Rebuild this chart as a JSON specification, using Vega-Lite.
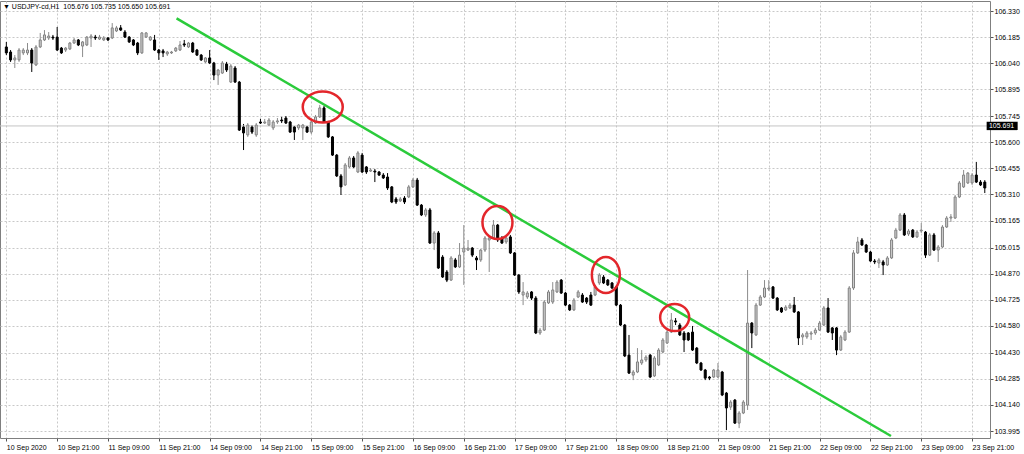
{
"$schema":"https://vega.github.io/schema/vega-lite/v6.json",
"width":990,"height":437,
"autosize":{"type":"none"},
"padding":{"left":0,"top":1,"right":34,"bottom":16},
"background":"white",
"config":{"view":{"stroke":"#7f7f7f","strokeWidth":1},
"axis":{"labelFont":"Liberation Sans","labelFontSize":7,"labelColor":"#000","tickColor":"#555","domain":false,"gridColor":"#c8c8c8","gridDash":[2,2],"gridWidth":1,"tickSize":3,"labelOverlap":false,"labelFlush":false,"labelBound":false}},
"title":{"text":"▼ USDJPY-cd,H1\u00a0 105.676 105.735 105.650 105.691","anchor":"start","frame":"group","orient":"top","offset":-10,"fontSize":7,"font":"Liberation Sans","fontWeight":"normal","color":"#000","dx":3,"dy":6,"baseline":"bottom"},
"datasets":{"candles":[
{"i":0,"o":106.130,"h":106.158,"l":106.085,"c":106.097},
{"i":1,"o":106.102,"h":106.113,"l":106.047,"c":106.058},
{"i":2,"o":106.058,"h":106.085,"l":106.013,"c":106.069},
{"i":3,"o":106.058,"h":106.124,"l":106.047,"c":106.113},
{"i":4,"o":106.097,"h":106.124,"l":106.085,"c":106.113},
{"i":5,"o":106.097,"h":106.152,"l":106.085,"c":106.113},
{"i":6,"o":106.113,"h":106.124,"l":105.991,"c":106.041},
{"i":7,"o":106.030,"h":106.141,"l":106.024,"c":106.130},
{"i":8,"o":106.130,"h":106.208,"l":106.124,"c":106.169},
{"i":9,"o":106.169,"h":106.224,"l":106.163,"c":106.197},
{"i":10,"o":106.180,"h":106.213,"l":106.169,"c":106.191},
{"i":11,"o":106.185,"h":106.197,"l":106.169,"c":106.180},
{"i":12,"o":106.185,"h":106.241,"l":106.108,"c":106.113},
{"i":13,"o":106.124,"h":106.130,"l":106.091,"c":106.097},
{"i":14,"o":106.113,"h":106.130,"l":106.102,"c":106.124},
{"i":15,"o":106.119,"h":106.158,"l":106.113,"c":106.152},
{"i":16,"o":106.152,"h":106.180,"l":106.147,"c":106.169},
{"i":17,"o":106.169,"h":106.174,"l":106.135,"c":106.141},
{"i":18,"o":106.135,"h":106.163,"l":106.074,"c":106.158},
{"i":19,"o":106.141,"h":106.191,"l":106.135,"c":106.185},
{"i":20,"o":106.180,"h":106.202,"l":106.130,"c":106.191},
{"i":21,"o":106.185,"h":106.197,"l":106.169,"c":106.180},
{"i":22,"o":106.174,"h":106.197,"l":106.169,"c":106.185},
{"i":23,"o":106.169,"h":106.191,"l":106.163,"c":106.180},
{"i":24,"o":106.180,"h":106.185,"l":106.163,"c":106.169},
{"i":25,"o":106.180,"h":106.263,"l":106.174,"c":106.236},
{"i":26,"o":106.219,"h":106.247,"l":106.213,"c":106.236},
{"i":27,"o":106.236,"h":106.252,"l":106.219,"c":106.224},
{"i":28,"o":106.213,"h":106.224,"l":106.180,"c":106.185},
{"i":29,"o":106.185,"h":106.191,"l":106.152,"c":106.158},
{"i":30,"o":106.169,"h":106.174,"l":106.135,"c":106.141},
{"i":31,"o":106.152,"h":106.158,"l":106.085,"c":106.097},
{"i":32,"o":106.097,"h":106.213,"l":106.091,"c":106.208},
{"i":33,"o":106.185,"h":106.213,"l":106.180,"c":106.208},
{"i":34,"o":106.169,"h":106.191,"l":106.163,"c":106.185},
{"i":35,"o":106.169,"h":106.197,"l":106.108,"c":106.113},
{"i":36,"o":106.113,"h":106.119,"l":106.058,"c":106.097},
{"i":37,"o":106.108,"h":106.119,"l":106.074,"c":106.097},
{"i":38,"o":106.091,"h":106.108,"l":106.080,"c":106.102},
{"i":39,"o":106.097,"h":106.108,"l":106.091,"c":106.102},
{"i":40,"o":106.108,"h":106.130,"l":106.102,"c":106.124},
{"i":41,"o":106.113,"h":106.163,"l":106.108,"c":106.141},
{"i":42,"o":106.147,"h":106.169,"l":106.130,"c":106.141},
{"i":43,"o":106.130,"h":106.158,"l":106.124,"c":106.152},
{"i":44,"o":106.152,"h":106.158,"l":106.097,"c":106.102},
{"i":45,"o":106.113,"h":106.119,"l":106.080,"c":106.085},
{"i":46,"o":106.085,"h":106.091,"l":106.052,"c":106.058},
{"i":47,"o":106.047,"h":106.074,"l":106.041,"c":106.069},
{"i":48,"o":106.069,"h":106.113,"l":106.035,"c":106.041},
{"i":49,"o":106.041,"h":106.047,"l":105.946,"c":105.974},
{"i":50,"o":105.974,"h":106.008,"l":105.919,"c":106.002},
{"i":51,"o":105.985,"h":106.052,"l":105.980,"c":106.041},
{"i":52,"o":106.035,"h":106.047,"l":105.991,"c":106.002},
{"i":53,"o":105.935,"h":106.035,"l":105.930,"c":106.024},
{"i":54,"o":106.013,"h":106.024,"l":105.930,"c":105.935},
{"i":55,"o":105.935,"h":105.941,"l":105.663,"c":105.668},
{"i":56,"o":105.685,"h":105.702,"l":105.557,"c":105.652},
{"i":57,"o":105.641,"h":105.707,"l":105.630,"c":105.696},
{"i":58,"o":105.685,"h":105.696,"l":105.646,"c":105.657},
{"i":59,"o":105.641,"h":105.707,"l":105.630,"c":105.696},
{"i":60,"o":105.713,"h":105.730,"l":105.702,"c":105.707},
{"i":61,"o":105.707,"h":105.730,"l":105.702,"c":105.713},
{"i":62,"o":105.696,"h":105.735,"l":105.691,"c":105.724},
{"i":63,"o":105.680,"h":105.724,"l":105.668,"c":105.713},
{"i":64,"o":105.713,"h":105.735,"l":105.702,"c":105.719},
{"i":65,"o":105.724,"h":105.741,"l":105.707,"c":105.719},
{"i":66,"o":105.735,"h":105.746,"l":105.702,"c":105.707},
{"i":67,"o":105.713,"h":105.719,"l":105.652,"c":105.657},
{"i":68,"o":105.685,"h":105.691,"l":105.613,"c":105.657},
{"i":69,"o":105.680,"h":105.702,"l":105.668,"c":105.696},
{"i":70,"o":105.680,"h":105.702,"l":105.613,"c":105.696},
{"i":71,"o":105.685,"h":105.691,"l":105.652,"c":105.657},
{"i":72,"o":105.657,"h":105.719,"l":105.646,"c":105.713},
{"i":73,"o":105.707,"h":105.752,"l":105.702,"c":105.741},
{"i":74,"o":105.741,"h":105.808,"l":105.735,"c":105.791},
{"i":75,"o":105.791,"h":105.802,"l":105.707,"c":105.713},
{"i":76,"o":105.713,"h":105.719,"l":105.624,"c":105.630},
{"i":77,"o":105.630,"h":105.635,"l":105.524,"c":105.529},
{"i":78,"o":105.529,"h":105.535,"l":105.407,"c":105.413},
{"i":79,"o":105.413,"h":105.424,"l":105.307,"c":105.352},
{"i":80,"o":105.363,"h":105.485,"l":105.357,"c":105.474},
{"i":81,"o":105.463,"h":105.524,"l":105.457,"c":105.513},
{"i":82,"o":105.513,"h":105.524,"l":105.457,"c":105.463},
{"i":83,"o":105.435,"h":105.552,"l":105.429,"c":105.541},
{"i":84,"o":105.529,"h":105.541,"l":105.429,"c":105.435},
{"i":85,"o":105.463,"h":105.468,"l":105.424,"c":105.435},
{"i":86,"o":105.440,"h":105.457,"l":105.435,"c":105.446},
{"i":87,"o":105.440,"h":105.452,"l":105.379,"c":105.435},
{"i":88,"o":105.435,"h":105.440,"l":105.413,"c":105.418},
{"i":89,"o":105.418,"h":105.429,"l":105.396,"c":105.402},
{"i":90,"o":105.407,"h":105.429,"l":105.335,"c":105.346},
{"i":91,"o":105.352,"h":105.357,"l":105.262,"c":105.268},
{"i":92,"o":105.285,"h":105.296,"l":105.257,"c":105.268},
{"i":93,"o":105.274,"h":105.296,"l":105.268,"c":105.285},
{"i":94,"o":105.290,"h":105.301,"l":105.257,"c":105.268},
{"i":95,"o":105.296,"h":105.363,"l":105.290,"c":105.352},
{"i":96,"o":105.352,"h":105.402,"l":105.346,"c":105.390},
{"i":97,"o":105.390,"h":105.402,"l":105.246,"c":105.251},
{"i":98,"o":105.251,"h":105.257,"l":105.190,"c":105.196},
{"i":99,"o":105.196,"h":105.235,"l":105.185,"c":105.224},
{"i":100,"o":105.224,"h":105.235,"l":105.035,"c":105.040},
{"i":101,"o":105.040,"h":105.107,"l":105.001,"c":105.096},
{"i":102,"o":105.096,"h":105.107,"l":104.896,"c":104.901},
{"i":103,"o":104.962,"h":104.973,"l":104.846,"c":104.851},
{"i":104,"o":104.879,"h":104.890,"l":104.823,"c":104.834},
{"i":105,"o":104.834,"h":104.968,"l":104.829,"c":104.957},
{"i":106,"o":104.946,"h":104.957,"l":104.901,"c":104.907},
{"i":107,"o":104.907,"h":105.040,"l":104.901,"c":104.973},
{"i":108,"o":104.990,"h":105.140,"l":104.807,"c":105.012},
{"i":109,"o":105.001,"h":105.057,"l":104.996,"c":105.012},
{"i":110,"o":105.012,"h":105.018,"l":104.962,"c":104.973},
{"i":111,"o":104.957,"h":104.968,"l":104.890,"c":104.946},
{"i":112,"o":104.946,"h":105.007,"l":104.935,"c":105.001},
{"i":113,"o":105.001,"h":105.079,"l":104.990,"c":105.068},
{"i":114,"o":105.057,"h":105.079,"l":104.879,"c":105.068},
{"i":115,"o":105.068,"h":105.168,"l":105.062,"c":105.140},
{"i":116,"o":105.140,"h":105.146,"l":105.046,"c":105.057},
{"i":117,"o":105.068,"h":105.079,"l":105.035,"c":105.040},
{"i":118,"o":105.046,"h":105.079,"l":105.035,"c":105.068},
{"i":119,"o":105.074,"h":105.085,"l":104.979,"c":104.985},
{"i":120,"o":104.985,"h":104.990,"l":104.857,"c":104.862},
{"i":121,"o":104.862,"h":104.868,"l":104.757,"c":104.768},
{"i":122,"o":104.751,"h":104.823,"l":104.695,"c":104.768},
{"i":123,"o":104.740,"h":104.773,"l":104.729,"c":104.762},
{"i":124,"o":104.768,"h":104.773,"l":104.723,"c":104.734},
{"i":125,"o":104.734,"h":104.745,"l":104.534,"c":104.540},
{"i":126,"o":104.540,"h":104.568,"l":104.529,"c":104.556},
{"i":127,"o":104.556,"h":104.723,"l":104.551,"c":104.712},
{"i":128,"o":104.707,"h":104.779,"l":104.701,"c":104.768},
{"i":129,"o":104.712,"h":104.823,"l":104.701,"c":104.779},
{"i":130,"o":104.768,"h":104.834,"l":104.762,"c":104.823},
{"i":131,"o":104.834,"h":104.840,"l":104.757,"c":104.762},
{"i":132,"o":104.762,"h":104.768,"l":104.690,"c":104.695},
{"i":133,"o":104.695,"h":104.701,"l":104.662,"c":104.668},
{"i":134,"o":104.668,"h":104.734,"l":104.662,"c":104.723},
{"i":135,"o":104.740,"h":104.779,"l":104.734,"c":104.768},
{"i":136,"o":104.751,"h":104.762,"l":104.707,"c":104.712},
{"i":137,"o":104.734,"h":104.740,"l":104.701,"c":104.712},
{"i":138,"o":104.751,"h":104.768,"l":104.690,"c":104.695},
{"i":139,"o":104.751,"h":104.807,"l":104.745,"c":104.796},
{"i":140,"o":104.818,"h":104.873,"l":104.807,"c":104.862},
{"i":141,"o":104.851,"h":104.862,"l":104.812,"c":104.818},
{"i":142,"o":104.834,"h":104.840,"l":104.801,"c":104.807},
{"i":143,"o":104.818,"h":104.823,"l":104.784,"c":104.790},
{"i":144,"o":104.796,"h":104.801,"l":104.690,"c":104.695},
{"i":145,"o":104.695,"h":104.701,"l":104.579,"c":104.584},
{"i":146,"o":104.584,"h":104.590,"l":104.406,"c":104.412},
{"i":147,"o":104.417,"h":104.529,"l":104.312,"c":104.317},
{"i":148,"o":104.306,"h":104.334,"l":104.278,"c":104.323},
{"i":149,"o":104.323,"h":104.456,"l":104.317,"c":104.379},
{"i":150,"o":104.373,"h":104.445,"l":104.362,"c":104.390},
{"i":151,"o":104.390,"h":104.417,"l":104.379,"c":104.406},
{"i":152,"o":104.417,"h":104.423,"l":104.289,"c":104.295},
{"i":153,"o":104.301,"h":104.412,"l":104.295,"c":104.401},
{"i":154,"o":104.362,"h":104.456,"l":104.356,"c":104.445},
{"i":155,"o":104.434,"h":104.512,"l":104.428,"c":104.501},
{"i":156,"o":104.484,"h":104.556,"l":104.479,"c":104.545},
{"i":157,"o":104.545,"h":104.651,"l":104.540,"c":104.612},
{"i":158,"o":104.607,"h":104.623,"l":104.584,"c":104.601},
{"i":159,"o":104.584,"h":104.595,"l":104.523,"c":104.529},
{"i":160,"o":104.540,"h":104.551,"l":104.434,"c":104.501},
{"i":161,"o":104.540,"h":104.545,"l":104.495,"c":104.501},
{"i":162,"o":104.545,"h":104.579,"l":104.440,"c":104.445},
{"i":163,"o":104.456,"h":104.462,"l":104.367,"c":104.373},
{"i":164,"o":104.373,"h":104.379,"l":104.329,"c":104.334},
{"i":165,"o":104.334,"h":104.340,"l":104.278,"c":104.289},
{"i":166,"o":104.295,"h":104.301,"l":104.278,"c":104.289},
{"i":167,"o":104.295,"h":104.340,"l":104.289,"c":104.334},
{"i":168,"o":104.295,"h":104.373,"l":104.289,"c":104.334},
{"i":169,"o":104.323,"h":104.329,"l":104.189,"c":104.195},
{"i":170,"o":104.206,"h":104.212,"l":104.000,"c":104.123},
{"i":171,"o":104.128,"h":104.167,"l":104.112,"c":104.156},
{"i":172,"o":104.167,"h":104.173,"l":104.034,"c":104.039},
{"i":173,"o":104.039,"h":104.106,"l":104.011,"c":104.095},
{"i":174,"o":104.095,"h":104.167,"l":104.089,"c":104.156},
{"i":175,"o":104.139,"h":104.890,"l":104.112,"c":104.595},
{"i":176,"o":104.595,"h":104.601,"l":104.456,"c":104.540},
{"i":177,"o":104.529,"h":104.707,"l":104.523,"c":104.695},
{"i":178,"o":104.695,"h":104.751,"l":104.690,"c":104.740},
{"i":179,"o":104.740,"h":104.834,"l":104.734,"c":104.790},
{"i":180,"o":104.784,"h":104.834,"l":104.773,"c":104.790},
{"i":181,"o":104.796,"h":104.801,"l":104.729,"c":104.734},
{"i":182,"o":104.734,"h":104.740,"l":104.662,"c":104.668},
{"i":183,"o":104.679,"h":104.684,"l":104.651,"c":104.657},
{"i":184,"o":104.668,"h":104.695,"l":104.662,"c":104.684},
{"i":185,"o":104.679,"h":104.707,"l":104.673,"c":104.695},
{"i":186,"o":104.695,"h":104.740,"l":104.651,"c":104.657},
{"i":187,"o":104.657,"h":104.662,"l":104.473,"c":104.512},
{"i":188,"o":104.518,"h":104.540,"l":104.473,"c":104.529},
{"i":189,"o":104.518,"h":104.551,"l":104.507,"c":104.540},
{"i":190,"o":104.534,"h":104.551,"l":104.501,"c":104.540},
{"i":191,"o":104.540,"h":104.568,"l":104.529,"c":104.556},
{"i":192,"o":104.556,"h":104.607,"l":104.551,"c":104.595},
{"i":193,"o":104.584,"h":104.690,"l":104.579,"c":104.679},
{"i":194,"o":104.679,"h":104.734,"l":104.540,"c":104.545},
{"i":195,"o":104.568,"h":104.573,"l":104.501,"c":104.540},
{"i":196,"o":104.568,"h":104.573,"l":104.417,"c":104.445},
{"i":197,"o":104.445,"h":104.529,"l":104.440,"c":104.518},
{"i":198,"o":104.501,"h":104.556,"l":104.495,"c":104.545},
{"i":199,"o":104.545,"h":104.801,"l":104.540,"c":104.790},
{"i":200,"o":104.790,"h":105.001,"l":104.779,"c":104.985},
{"i":201,"o":104.985,"h":105.074,"l":104.979,"c":105.046},
{"i":202,"o":105.057,"h":105.068,"l":105.024,"c":105.029},
{"i":203,"o":105.029,"h":105.035,"l":104.985,"c":104.990},
{"i":204,"o":104.990,"h":104.996,"l":104.935,"c":104.940},
{"i":205,"o":104.940,"h":104.951,"l":104.923,"c":104.935},
{"i":206,"o":104.929,"h":104.957,"l":104.901,"c":104.946},
{"i":207,"o":104.935,"h":104.946,"l":104.862,"c":104.918},
{"i":208,"o":104.918,"h":104.968,"l":104.912,"c":104.957},
{"i":209,"o":104.957,"h":105.068,"l":104.951,"c":105.057},
{"i":210,"o":105.068,"h":105.124,"l":105.062,"c":105.112},
{"i":211,"o":105.112,"h":105.207,"l":105.107,"c":105.196},
{"i":212,"o":105.196,"h":105.207,"l":105.079,"c":105.085},
{"i":213,"o":105.090,"h":105.118,"l":105.079,"c":105.107},
{"i":214,"o":105.112,"h":105.118,"l":105.068,"c":105.074},
{"i":215,"o":105.074,"h":105.112,"l":105.068,"c":105.101},
{"i":216,"o":105.107,"h":105.151,"l":105.096,"c":105.112},
{"i":217,"o":105.101,"h":105.107,"l":104.957,"c":104.973},
{"i":218,"o":104.973,"h":105.096,"l":104.968,"c":105.085},
{"i":219,"o":105.085,"h":105.096,"l":104.996,"c":105.001},
{"i":220,"o":105.001,"h":105.029,"l":104.935,"c":105.018},
{"i":221,"o":105.018,"h":105.140,"l":105.012,"c":105.129},
{"i":222,"o":105.129,"h":105.190,"l":105.124,"c":105.179},
{"i":223,"o":105.179,"h":105.201,"l":105.157,"c":105.185},
{"i":224,"o":105.179,"h":105.307,"l":105.174,"c":105.296},
{"i":225,"o":105.296,"h":105.385,"l":105.290,"c":105.374},
{"i":226,"o":105.352,"h":105.446,"l":105.346,"c":105.418},
{"i":227,"o":105.374,"h":105.435,"l":105.368,"c":105.429},
{"i":228,"o":105.374,"h":105.429,"l":105.363,"c":105.418},
{"i":229,"o":105.418,"h":105.491,"l":105.374,"c":105.379},
{"i":230,"o":105.379,"h":105.390,"l":105.357,"c":105.363},
{"i":231,"o":105.379,"h":105.390,"l":105.318,"c":105.346}
]},
"data":{"name":"candles"},
"layer":[
{"mark":{"type":"rule","strokeWidth":1},
 "encoding":{
  "x":{"field":"i","type":"quantitative","title":null,"scale":{"domain":[-0.3155,231.05],"nice":false,"zero":false},
   "axis":{"orient":"bottom","values":[0,12,24,36,48,60,72,84,96,108,120,132,144,156,168,180,192,204,216,228],"tickCount":40,"labelAlign":"left","labelBaseline":"top","labelPadding":2,"grid":true,"ticks":true,"labelOverlap":false,"labelFlush":false,"title":null,
   "labelExpr":"['10 Sep 2020','10 Sep 21:00','11 Sep 09:00','11 Sep 21:00','14 Sep 09:00','14 Sep 21:00','15 Sep 09:00','15 Sep 21:00','16 Sep 09:00','16 Sep 21:00','17 Sep 09:00','17 Sep 21:00','18 Sep 09:00','18 Sep 21:00','21 Sep 09:00','21 Sep 21:00','22 Sep 09:00','22 Sep 21:00','23 Sep 09:00','23 Sep 21:00'][round(datum.value/12)]"}},
  "y":{"field":"l","type":"quantitative","title":null,"scale":{"domain":[103.9561,106.3856],"nice":false,"zero":false},
   "axis":{"orient":"right","values":[103.995,104.14,104.285,104.43,104.58,104.725,104.87,105.015,105.165,105.31,105.455,105.6,105.745,105.895,106.04,106.185,106.33],"tickCount":40,"format":".3f","labelPadding":1,"labelBaseline":"middle","grid":true,"ticks":true,"labelOverlap":false,"labelFlush":false,"title":null}},
  "y2":{"field":"h"},
  "color":{"condition":{"test":"datum.c >= datum.o","value":"#8c8c8c"},"value":"#000000"}}},
{"data":{"values":[{"p":105.691}]},
 "mark":{"type":"rule","color":"#c4c4c4","strokeWidth":1},
 "encoding":{"y":{"field":"p","type":"quantitative","title":null}}},
{"mark":{"type":"bar","size":2,"strokeWidth":1},
 "encoding":{
  "x":{"field":"i","type":"quantitative","title":null},
  "y":{"field":"o","type":"quantitative","title":null},
  "y2":{"field":"c"},
  "fill":{"condition":{"test":"datum.c >= datum.o","value":"#d0d0d0"},"value":"#000000"},
  "stroke":{"condition":{"test":"datum.c >= datum.o","value":"#808080"},"value":"#000000"}}},
{"data":{"values":[{"i":40.19,"p":106.289},{"i":208.85,"p":103.967}]},
 "mark":{"type":"line","color":"#2bcb3b","strokeWidth":2.5},
 "encoding":{"x":{"field":"i","type":"quantitative","title":null},"y":{"field":"p","type":"quantitative","title":null}}},
{"data":{"values":[{"i":74.7,"p":105.796}]},
 "mark":{"type":"point","shape":"M1,0C1,0.428,0.552,0.775,0,0.775C-0.552,0.775,-1,0.428,-1,0C-1,-0.428,-0.552,-0.775,0,-0.775C0.552,-0.775,1,-0.428,1,0Z","size":1600,"filled":false,"stroke":"#e3262b","strokeWidth":2.5,"opacity":1},
 "encoding":{"x":{"field":"i","type":"quantitative","title":null},"y":{"field":"p","type":"quantitative","title":null}}},
{"data":{"values":[{"i":115.95,"p":105.154}]},
 "mark":{"type":"point","shape":"M1,0C1,0.608,0.552,1.1,0,1.1C-0.552,1.1,-1,0.608,-1,0C-1,-0.608,-0.552,-1.1,0,-1.1C0.552,-1.1,1,-0.608,1,0Z","size":900,"filled":false,"stroke":"#e3262b","strokeWidth":2.5,"opacity":1},
 "encoding":{"x":{"field":"i","type":"quantitative","title":null},"y":{"field":"p","type":"quantitative","title":null}}},
{"data":{"values":[{"i":141.54,"p":104.862}]},
 "mark":{"type":"point","shape":"M1,0C1,0.71,0.552,1.286,0,1.286C-0.552,1.286,-1,0.71,-1,0C-1,-0.71,-0.552,-1.286,0,-1.286C0.552,-1.286,1,-0.71,1,0Z","size":784,"filled":false,"stroke":"#e3262b","strokeWidth":2.5,"opacity":1},
 "encoding":{"x":{"field":"i","type":"quantitative","title":null},"y":{"field":"p","type":"quantitative","title":null}}},
{"data":{"values":[{"i":157.78,"p":104.626}]},
 "mark":{"type":"point","shape":"M1,0C1,0.514,0.552,0.931,0,0.931C-0.552,0.931,-1,0.514,-1,0C-1,-0.514,-0.552,-0.931,0,-0.931C0.552,-0.931,1,-0.514,1,0Z","size":841,"filled":false,"stroke":"#e3262b","strokeWidth":2.5,"opacity":1},
 "encoding":{"x":{"field":"i","type":"quantitative","title":null},"y":{"field":"p","type":"quantitative","title":null}}},
{"data":{"values":[{"p":105.691}]},
 "mark":{"type":"point","shape":"M-1,-0.27H1V0.27H-1Z","size":961,"filled":true,"color":"#000000","opacity":1},
 "encoding":{"x":{"datum":235.1,"type":"quantitative","title":null},"y":{"field":"p","type":"quantitative","title":null}}},
{"data":{"values":[{"p":105.691}]},
 "mark":{"type":"text","color":"#ffffff","fontSize":7,"font":"Liberation Sans","align":"left","baseline":"middle"},
 "encoding":{"x":{"datum":231.98,"type":"quantitative","title":null},"y":{"field":"p","type":"quantitative","title":null},"text":{"field":"p","format":".3f"}}}
]
}
